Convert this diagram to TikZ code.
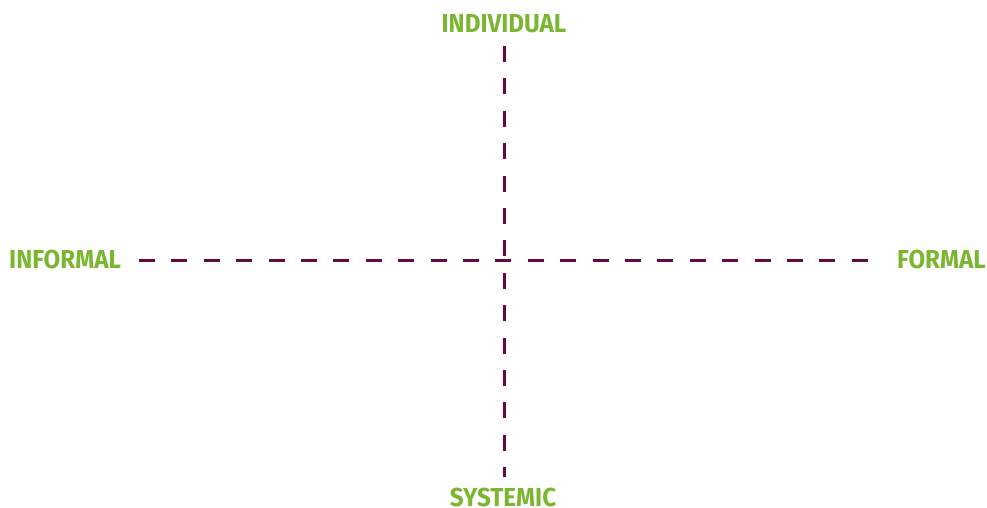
\documentclass[tikz,border=0pt]{standalone}
\usepackage{fontspec}
\setmainfont{Fira Sans}
\usepackage{tikz}
\usetikzlibrary{positioning}
\definecolor{axisplum}{HTML}{650A40}
\definecolor{labelgreen}{HTML}{7BB630}
\newcommand{\polename}[1]{\scalebox{0.93}[1]{#1}}
\tikzset{
  polelabel/.style={font=\fontsize{26}{26}\selectfont\bfseries, text=labelgreen, inner sep=0pt, text depth=0pt},
  axisline/.style={draw=axisplum, line width=3pt, dash pattern=on 16pt off 16.4pt}
}

\begin{document}
\begin{tikzpicture}[x=1pt,y=1pt]
\useasboundingbox (0,0) rectangle (987,508);
\node[polelabel, anchor=base] (individual) at (504,475) {\polename{INDIVIDUAL}};
\node[polelabel, anchor=base] (systemic) at (503,1.5) {\polename{SYSTEMIC}};
\node[polelabel, anchor=base west] (informal) at (9,239) {\polename{INFORMAL}};
\node[polelabel, anchor=base east] (formal) at (986,239) {\polename{FORMAL}};
\coordinate (W) at (139,247);
\coordinate (E) at (868,247);
\coordinate (N) at (504,462);
\coordinate (S) at (504,31);
\path[axisline]
(W) edge (E)
(N) edge (S);
\end{tikzpicture}
\end{document}
